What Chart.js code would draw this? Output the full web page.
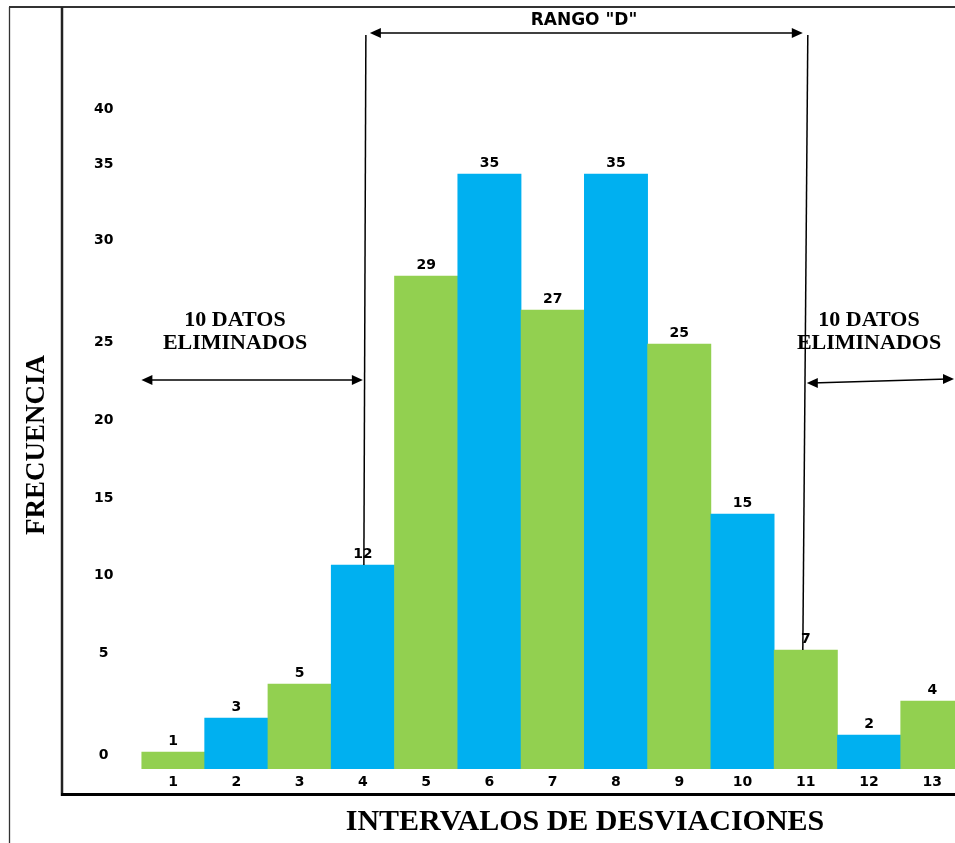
<!DOCTYPE html>
<html>
<head>
<meta charset="utf-8">
<script src="https://cdn.jsdelivr.net/npm/chart.js@4.4.1/dist/chart.umd.min.js"></script>
<style>
  html, body { margin: 0; padding: 0; background: #fff; overflow: hidden; }
  #wrap { width: 955px; height: 843px; overflow: hidden; }
</style>
</head>
<body>
<div id="wrap"><canvas id="chart" width="964" height="843"></canvas></div>
<script>
// Intervalos de desviaciones y sus frecuencias
const intervalos = ['1', '2', '3', '4', '5', '6', '7', '8', '9', '10', '11', '12', '13'];
const frecuencias = [1, 3, 5, 12, 29, 35, 27, 35, 25, 15, 7, 2, 4];

// Y tick labels and where they sit (in data units)
const yTickLabels = ['0', '5', '10', '15', '20', '25', '30', '35', '40'];
const yTickAt = [0.8, 6.8, 11.4, 15.9, 20.5, 25.1, 31.1, 35.6, 38.8];

const GREEN = '#92D050';
const BLUE = '#00B0F0';
const SANS = "'DejaVu Sans', Verdana, sans-serif";
const SERIF = "'Liberation Serif', 'Times New Roman', serif";

// Draws the value above each bar
const valueLabels = {
  id: 'valueLabels',
  afterDatasetsDraw(chart) {
    const ctx = chart.ctx;
    const meta = chart.getDatasetMeta(0);
    ctx.save();
    ctx.font = 'bold 14px ' + SANS;
    ctx.fillStyle = '#000';
    ctx.textAlign = 'center';
    ctx.textBaseline = 'middle';
    meta.data.forEach((bar, i) => {
      ctx.fillText(frecuencias[i], bar.x, bar.y - 11);
    });
    ctx.restore();
  }
};

function arrowHead(ctx, x, y, dir) {
  // dir = -1 points left, 1 points right
  ctx.beginPath();
  ctx.moveTo(x, y);
  ctx.lineTo(x - dir * 11, y - 5);
  ctx.lineTo(x - dir * 11, y + 5);
  ctx.closePath();
  ctx.fill();
}

// Frame, range arrows and the texts round the chart
const decorations = {
  id: 'decorations',
  afterDraw(chart) {
    const ctx = chart.ctx;
    const x = chart.scales.x;
    const meta = chart.getDatasetMeta(0);
    ctx.save();

    // frame lines
    ctx.strokeStyle = '#333';
    ctx.lineWidth = 2;
    ctx.beginPath(); ctx.moveTo(9, 7); ctx.lineTo(964, 7); ctx.stroke();
    ctx.lineWidth = 1.3;
    ctx.beginPath(); ctx.moveTo(9.5, 7); ctx.lineTo(9.5, 843); ctx.stroke();
    ctx.strokeStyle = '#222';
    ctx.lineWidth = 2.5;
    ctx.beginPath(); ctx.moveTo(62, 7); ctx.lineTo(62, 796); ctx.stroke();
    ctx.strokeStyle = '#000';
    ctx.lineWidth = 3;
    ctx.beginPath(); ctx.moveTo(61, 794.5); ctx.lineTo(964, 794.5); ctx.stroke();

    // range "D" between interval 4 and interval 11
    const xa = x.getPixelForValue(3);
    const xb = x.getPixelForValue(10);
    const barA = meta.data[3];
    const barB = meta.data[10];
    ctx.strokeStyle = '#000';
    ctx.fillStyle = '#000';
    ctx.lineWidth = 1.5;
    ctx.beginPath(); ctx.moveTo(xa + 3, 35); ctx.lineTo(xa + 1, barA.y); ctx.stroke();
    ctx.beginPath(); ctx.moveTo(xb + 2, 35); ctx.lineTo(xb - 3, barB.y); ctx.stroke();

    ctx.lineWidth = 1.5;
    ctx.beginPath(); ctx.moveTo(xa + 10, 33); ctx.lineTo(xb - 8, 33); ctx.stroke();
    arrowHead(ctx, xa + 7, 33, -1);
    arrowHead(ctx, xb - 3, 33, 1);

    ctx.font = 'bold 17px ' + SANS;
    ctx.textAlign = 'center';
    ctx.textBaseline = 'middle';
    ctx.fillText('RANGO "D"', 584, 21);

    // left arrow: eliminated data
    const left = chart.chartArea.left;
    ctx.beginPath(); ctx.moveTo(left + 6, 380); ctx.lineTo(xa - 5, 380); ctx.stroke();
    arrowHead(ctx, left, 380, -1);
    arrowHead(ctx, xa, 380, 1);

    // right arrow: eliminated data
    ctx.beginPath(); ctx.moveTo(xb + 6, 383); ctx.lineTo(948, 379); ctx.stroke();
    arrowHead(ctx, xb + 1, 383, -1);
    arrowHead(ctx, 954, 379, 1);

    ctx.font = 'bold 22px ' + SERIF;
    ctx.fillText('10 DATOS', 235, 320);
    ctx.fillText('ELIMINADOS', 235, 343);
    ctx.fillText('10 DATOS', 869, 320);
    ctx.fillText('ELIMINADOS', 869, 343);

    // axis titles
    ctx.font = 'bold 30px ' + SERIF;
    ctx.fillText('INTERVALOS DE DESVIACIONES', 585, 822);
    ctx.font = 'bold 27px ' + SERIF;
    ctx.translate(37, 445);
    ctx.rotate(-Math.PI / 2);
    ctx.fillText('FRECUENCIA', 0, 0);

    ctx.restore();
  }
};

new Chart(document.getElementById('chart').getContext('2d'), {
  type: 'bar',
  data: {
    labels: intervalos,
    datasets: [{
      label: 'Frecuencia',
      data: frecuencias,
      backgroundColor: frecuencias.map((v, i) => (i % 2 === 0 ? GREEN : BLUE)),
      borderWidth: 0,
      barPercentage: 1,
      categoryPercentage: 1
    }]
  },
  options: {
    responsive: false,
    animation: false,
    layout: { padding: { top: 11, left: 0, right: 0, bottom: 0 } },
    plugins: {
      legend: { display: false },
      title: { display: false },
      tooltip: { enabled: false }
    },
    scales: {
      x: {
        grid: { display: false, drawTicks: false },
        border: { display: false },
        ticks: {
          color: '#000',
          font: { family: SANS, size: 14, weight: 'bold' },
          padding: 5,
          maxRotation: 0
        },
        afterFit(scale) { scale.height = 74; }
      },
      y: {
        min: 0,
        max: 44.6,
        grid: { display: false, drawTicks: false },
        border: { display: false },
        afterBuildTicks(axis) {
          axis.ticks = yTickAt.map(v => ({ value: v }));
        },
        ticks: {
          autoSkip: false,
          color: '#000',
          crossAlign: 'center',
          padding: 28,
          font: { family: SANS, size: 14, weight: 'bold' },
          callback: (value, index) => yTickLabels[index]
        },
        afterFit(scale) {
          scale.width = 141.4;
          scale.paddingTop = 0;
          scale.paddingBottom = 0;
        }
      }
    }
  },
  plugins: [valueLabels, decorations]
});
</script>
</body>
</html>
